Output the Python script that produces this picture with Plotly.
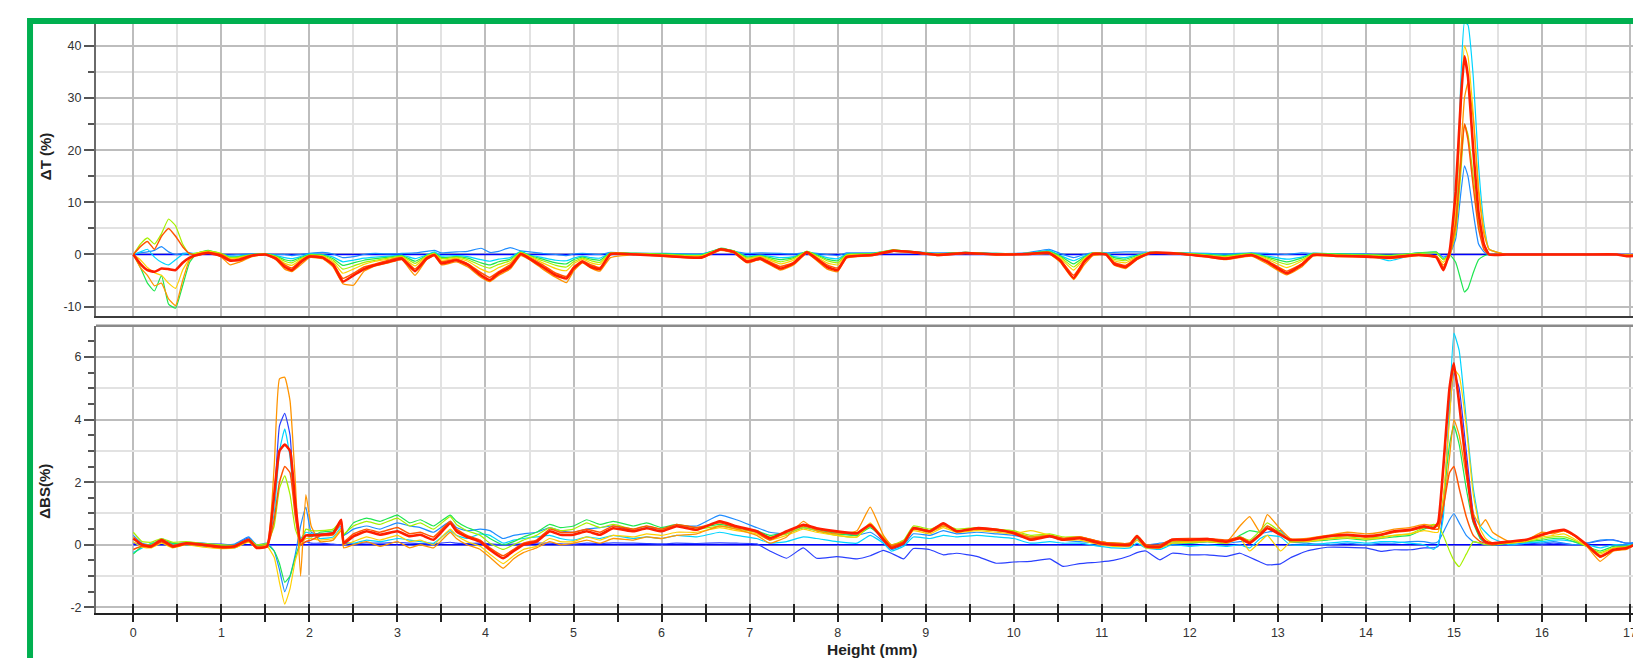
import plotly.graph_objects as go

# ---------------- shared x range (mm) ----------------
X_RANGE = [-0.424, 17.125]
X_TICKS = list(range(0, 18))

# ---------------- top panel : Delta T (%) ----------------
TX = [
    0.00, 0.08, 0.16, 0.24, 0.32, 0.40, 0.48, 0.56, 0.64, 0.72,
    0.85, 1.00, 1.10, 1.20, 1.35, 1.50, 1.62, 1.72, 1.80, 1.90,
    2.00, 2.15, 2.27, 2.38, 2.50, 2.62, 2.75, 2.90, 3.05, 3.20,
    3.33, 3.42, 3.50, 3.67, 3.80, 3.95, 4.05, 4.15, 4.28, 4.40,
    4.50, 4.65, 4.80, 4.92, 5.00, 5.10, 5.20, 5.30, 5.42, 5.70,
    6.05, 6.45, 6.67, 6.82, 6.97, 7.12, 7.35, 7.50, 7.65, 7.88,
    8.00, 8.10, 8.40, 8.63, 8.88, 9.15, 9.45, 9.80, 10.15, 10.40,
    10.53, 10.68, 10.80, 10.90, 11.05, 11.14, 11.27, 11.40, 11.55, 11.85,
    12.20, 12.40, 12.70, 12.88, 13.10, 13.27, 13.40, 13.70, 14.00, 14.27,
    14.60, 14.80, 14.88, 14.95, 15.02, 15.08, 15.12, 15.16, 15.22, 15.28,
    15.34, 15.40, 15.60, 16.00, 16.50, 16.85, 16.95, 17.13,
]
T_REF_X = [0.0, 17.13]
T_REF = [0.0, 0.0]

T_B = [
    0.0, 0.3, 0.5, 0.8, 1.5, 0.5, 0.0, 0.2, 0.3, 0.0,
    0.3, 0.0, -0.1, 0.0, 0.1, 0.1, 0.0, 0.0, -0.2, 0.0,
    0.2, 0.4, 0.1, -0.6, -0.4, 0.0, 0.2, 0.1, 0.2, 0.3,
    0.6, 0.8, 0.3, 0.5, 0.6, 1.2, 0.4, 0.6, 1.3, 0.7,
    0.5, 0.2, 0.0, -0.2, 0.1, 0.2, 0.1, 0.0, 0.4, 0.2,
    0.2, 0.1, 0.9, 0.6, 0.2, 0.3, 0.2, 0.1, 0.4, 0.0,
    -0.2, 0.3, 0.3, 0.6, 0.5, 0.3, 0.4, 0.2, 0.3, 1.0,
    0.2, -0.6, 0.0, 0.3, 0.3, 0.4, 0.5, 0.5, 0.4, 0.3,
    0.2, 0.1, 0.3, 0.2, 0.0, 0.3, 0.2, 0.1, 0.1, -0.3,
    0.3, 0.4, -0.5, 0.0, 3.0, 12.0, 17.0, 15.0, 8.0, 2.0,
    0.5, 0.0, 0.0, 0.0, 0.0, 0.0, 0.0, 0.0,
]
T_C = [
    0.0, 0.5, 1.0, -0.5, -1.5, -2.0, -1.0, 0.0, 0.2, 0.2,
    0.5, 0.1, -0.3, -0.3, 0.0, 0.1, -0.2, -0.6, -0.8, -0.4,
    0.1, 0.0, -0.5, -1.4, -1.1, -0.7, -0.5, -0.3, -0.1, -0.8,
    -0.1, 0.5, -0.3, -0.2, -0.4, -1.0, -1.3, -0.9, -0.6, 0.6,
    -0.1, -0.6, -1.1, -1.2, -0.7, -0.3, -0.6, -0.7, 0.3, 0.2,
    0.1, 0.0, 1.1, 0.7, -0.3, -0.1, -0.6, -0.4, 0.5, -0.6,
    -0.8, 0.1, 0.2, 0.8, 0.5, 0.1, 0.3, 0.1, 0.2, 0.8,
    -0.2, -1.2, -0.3, 0.3, 0.2, -0.4, -0.6, -0.1, 0.4, 0.3,
    0.1, -0.1, 0.2, -0.3, -0.9, -0.5, 0.2, 0.1, 0.0, -1.2,
    0.2, 0.3, -0.8, 0.0, 6.0, 34.0, 44.5, 44.0, 34.0, 17.0,
    6.0, 1.0, 0.0, 0.0, 0.0, 0.0, 0.0, 0.0,
]
T_G = [
    0.0, -2.5, -5.5, -7.0, -4.0, -9.5, -10.3, -6.0, -1.5, 0.2,
    0.8, 0.1, -0.5, -0.4, 0.0, 0.1, -0.3, -1.0, -1.2, -0.6,
    0.0, -0.1, -0.8, -2.1, -1.6, -1.1, -0.8, -0.5, -0.2, -1.3,
    -0.2, 0.3, -0.6, -0.4, -0.7, -1.6, -2.0, -1.4, -0.9, 0.5,
    -0.2, -0.9, -1.6, -1.8, -1.0, -0.5, -0.9, -1.1, 0.3, 0.2,
    0.1, -0.1, 1.2, 0.7, -0.5, -0.2, -1.0, -0.6, 0.6, -0.9,
    -1.2, 0.0, 0.2, 0.9, 0.5, 0.1, 0.4, 0.2, 0.2, 0.6,
    -0.3, -1.8, -0.5, 0.3, 0.2, -0.6, -0.9, -0.2, 0.4, 0.3,
    0.0, -0.2, 0.2, -0.5, -1.4, -0.7, 0.2, 0.1, 0.0, -0.1,
    0.3, 0.5, -1.0, 0.0, -1.5, -5.0, -7.2, -6.5, -3.5, -1.0,
    -0.3, 0.0, 0.0, 0.0, 0.0, 0.0, 0.0, 0.0,
]
T_L = [
    0.0, 2.0, 3.2, 2.0, 4.0, 6.8, 5.5, 2.0, 0.0, 0.3,
    0.7, 0.2, -0.6, -0.5, 0.0, 0.1, -0.4, -1.3, -1.6, -0.8,
    -0.1, -0.2, -1.1, -2.8, -2.2, -1.5, -1.1, -0.7, -0.3, -1.7,
    -0.3, 0.2, -0.8, -0.5, -1.0, -2.1, -2.6, -1.9, -1.2, 0.4,
    -0.3, -1.2, -2.1, -2.4, -1.4, -0.7, -1.2, -1.5, 0.3, 0.2,
    0.0, -0.2, 1.1, 0.7, -0.7, -0.3, -1.4, -0.8, 0.6, -1.2,
    -1.6, -0.1, 0.1, 0.9, 0.5, 0.1, 0.4, 0.1, 0.2, 0.5,
    -0.5, -2.4, -0.7, 0.3, 0.1, -0.9, -1.2, -0.4, 0.4, 0.3,
    -0.1, -0.4, 0.1, -0.7, -1.9, -1.0, 0.1, 0.0, -0.1, -0.2,
    0.2, 0.3, -1.0, 0.0, 4.0, 16.0, 25.0, 23.0, 15.0, 6.0,
    2.0, 0.0, 0.0, 0.0, 0.0, 0.0, 0.0, 0.0,
]
T_Y = [
    0.0, -1.0, -2.5, -3.5, -4.0, -5.5, -6.5, -3.0, -0.8, 0.2,
    0.6, 0.0, -0.8, -0.7, -0.1, 0.0, -0.5, -1.7, -2.1, -1.0,
    -0.2, -0.3, -1.4, -3.6, -2.8, -1.9, -1.3, -0.9, -0.5, -2.2,
    -0.4, 0.1, -1.1, -0.7, -1.3, -2.8, -3.4, -2.5, -1.6, 0.3,
    -0.4, -1.6, -2.7, -3.1, -1.8, -0.9, -1.6, -1.9, 0.2, 0.1,
    -0.1, -0.3, 1.0, 0.6, -0.9, -0.4, -1.8, -1.1, 0.5, -1.6,
    -2.0, -0.2, 0.0, 0.8, 0.4, 0.0, 0.3, 0.1, 0.1, 0.4,
    -0.7, -3.0, -0.9, 0.2, 0.1, -1.2, -1.6, -0.5, 0.4, 0.2,
    -0.2, -0.5, 0.0, -0.9, -2.5, -1.3, 0.0, -0.2, -0.3, -0.4,
    0.0, -0.3, -1.5, 0.3, 8.0, 28.0, 40.0, 38.0, 27.0, 13.0,
    5.0, 1.0, 0.0, 0.0, 0.0, 0.0, -0.1, 0.0,
]
T_O = [
    0.0, -2.5, -4.0, -6.0, -5.5, -8.5, -9.8, -5.0, -1.0, 0.0,
    0.5, -0.5, -2.0, -1.5, -0.4, 0.0, -1.0, -2.8, -3.3, -2.0,
    -0.6, -0.8, -2.4, -5.6, -5.9, -3.2, -2.2, -1.6, -1.0, -4.0,
    -1.0, -0.2, -2.0, -1.4, -2.4, -4.4, -5.2, -4.0, -2.8, -0.2,
    -1.0, -2.8, -4.4, -5.4, -3.2, -1.6, -2.6, -3.2, -0.6, 0.0,
    -0.4, -0.7, 0.8, 0.3, -1.6, -1.0, -3.0, -2.0, 0.2, -2.8,
    -3.3, -0.7, -0.2, 0.6, 0.3, -0.2, 0.2, -0.1, 0.0, 0.1,
    -1.5, -4.8, -2.0, -0.2, -0.1, -2.0, -2.7, -1.0, 0.2, 0.1,
    -0.5, -1.0, -0.3, -1.8, -3.9, -2.4, -0.3, -0.4, -0.5, -0.8,
    -0.2, -0.6, -2.0, -0.5, 5.0, 20.0, 30.0, 33.0, 26.0, 12.0,
    4.0, 1.0, 0.0, 0.0, 0.0, 0.0, -0.3, -0.2,
]
T_R2 = [
    0.0, 1.5, 2.5, 1.0, 3.5, 5.0, 3.5, 1.5, 0.2, -0.2,
    0.4, 0.0, -1.0, -1.2, -0.3, 0.0, -0.6, -2.0, -2.6, -1.2,
    -0.3, -0.5, -1.8, -4.6, -3.6, -2.4, -1.8, -1.1, -0.6, -2.8,
    -0.6, 0.0, -1.4, -0.9, -1.8, -3.5, -4.4, -3.3, -2.0, 0.2,
    -0.6, -2.0, -3.6, -4.2, -2.4, -1.2, -2.0, -2.5, 0.0, 0.1,
    -0.2, -0.5, 0.9, 0.4, -1.2, -0.6, -2.3, -1.5, 0.5, -2.0,
    -2.6, -0.4, 0.0, 0.8, 0.3, 0.0, 0.2, 0.1, 0.0, 0.4,
    -1.0, -4.0, -1.2, 0.2, 0.0, -1.5, -2.1, -0.6, 0.3, 0.1,
    -0.3, -0.7, -0.2, -1.2, -3.2, -1.8, 0.0, -0.2, -0.3, -0.5,
    0.0, -0.4, -2.5, 0.0, 6.0, 18.0, 25.0, 22.0, 13.0, 5.0,
    1.0, 0.0, 0.0, 0.0, 0.0, 0.0, -0.2, -0.1,
]
T_R = [
    0.0, -1.8, -3.0, -3.3, -2.7, -2.8, -3.0, -1.6, -0.6, -0.1,
    0.3, -0.3, -1.2, -1.0, -0.2, 0.0, -0.8, -2.4, -3.0, -1.5,
    -0.4, -0.6, -2.0, -5.2, -4.0, -2.8, -2.0, -1.4, -0.8, -3.2,
    -0.8, -0.1, -1.7, -1.1, -2.0, -4.0, -4.9, -3.6, -2.4, 0.1,
    -0.8, -2.4, -4.0, -4.6, -2.7, -1.4, -2.4, -2.8, 0.1, 0.0,
    -0.3, -0.6, 1.0, 0.5, -1.4, -0.8, -2.7, -1.7, 0.4, -2.4,
    -3.0, -0.5, -0.1, 0.7, 0.4, -0.1, 0.3, 0.0, 0.1, 0.3,
    -1.2, -4.5, -1.4, 0.1, 0.0, -1.8, -2.4, -0.8, 0.3, 0.2,
    -0.4, -0.8, -0.1, -1.4, -3.6, -2.0, -0.1, -0.3, -0.4, -0.6,
    -0.1, -0.5, -3.0, 0.5, 12.0, 30.0, 38.0, 34.0, 20.0, 8.0,
    2.0, 0.0, 0.0, 0.0, 0.0, 0.0, -0.3, -0.2,
]

T_YTICKS = [-10, 0, 10, 20, 30, 40]
T_YLABELS = ["-10", "0", "10", "20", "30", "40"]
T_YMINOR = [-5, 5, 15, 25, 35]
T_YRANGE = [-11.8, 44.2]

# ---------------- bottom panel : Delta BS (%) ----------------
BX = [
    0.00, 0.10, 0.20, 0.32, 0.45, 0.60, 0.80, 1.00, 1.15, 1.31,
    1.40, 1.52, 1.60, 1.66, 1.72, 1.78, 1.84, 1.90, 1.96, 2.02,
    2.12, 2.27, 2.36, 2.39, 2.50, 2.65, 2.80, 3.00, 3.14, 3.26,
    3.41, 3.60, 3.67, 3.79, 3.94, 4.05, 4.20, 4.32, 4.43, 4.58,
    4.73, 4.85, 5.00, 5.15, 5.30, 5.45, 5.68, 5.83, 6.00, 6.17,
    6.40, 6.66, 6.85, 7.08, 7.23, 7.42, 7.61, 7.76, 7.99, 8.22,
    8.37, 8.52, 8.61, 8.75, 8.86, 9.05, 9.20, 9.35, 9.58, 9.80,
    10.00, 10.19, 10.41, 10.56, 10.75, 10.98, 11.13, 11.32, 11.40, 11.50,
    11.66, 11.80, 12.00, 12.20, 12.42, 12.57, 12.68, 12.80, 12.88, 13.03,
    13.14, 13.33, 13.56, 13.79, 14.00, 14.17, 14.32, 14.50, 14.66, 14.77,
    14.82, 14.88, 14.95, 15.00, 15.06, 15.14, 15.22, 15.30, 15.36, 15.44,
    15.63, 15.82, 16.00, 16.13, 16.25, 16.36, 16.51, 16.66, 16.81, 16.96,
    17.13,
]
B_REF_X = [0.0, 17.13]
B_REF = [0.0, 0.0]

B_BD = [
    0.05, 0.02, 0.00, 0.10, 0.03, 0.05, 0.04, 0.02, 0.00, 0.22,
    0.00, 0.02, 1.50, 3.80, 4.20, 3.50, 1.00, 0.00, 0.10, 0.05,
    0.05, 0.02, 0.00, 0.05, 0.03, 0.06, 0.05, 0.08, 0.05, 0.04,
    0.03, 0.08, 0.05, 0.04, 0.05, 0.03, 0.00, 0.02, 0.03, 0.05,
    0.05, 0.03, 0.02, 0.05, 0.04, 0.06, 0.05, 0.04, 0.03, 0.05,
    0.04, 0.06, 0.05, 0.03, -0.20, -0.43, -0.10, -0.43, -0.38, -0.45,
    -0.35, -0.18, -0.27, -0.45, -0.12, -0.16, -0.32, -0.27, -0.37, -0.59,
    -0.55, -0.53, -0.45, -0.69, -0.60, -0.55, -0.50, -0.35, -0.25, -0.20,
    -0.48, -0.27, -0.32, -0.32, -0.37, -0.27, -0.40, -0.55, -0.64, -0.61,
    -0.42, -0.20, -0.08, -0.08, -0.10, -0.21, -0.16, -0.16, -0.10, -0.10,
    -0.05, 1.20, 4.20, 5.50, 5.00, 3.00, 1.00, 0.20, 0.05, 0.00,
    0.00, 0.05, 0.02, 0.05, 0.03, 0.00, 0.05, 0.12, 0.16, 0.05,
    0.05,
]
B_B = [
    0.30, 0.05, 0.00, 0.20, 0.02, 0.08, 0.05, 0.00, 0.02, 0.25,
    0.00, 0.05, -0.20, -0.80, -1.50, -1.00, -0.30, 0.60, 1.20, 0.40,
    0.35, 0.40, 0.60, 0.30, 0.50, 0.60, 0.50, 0.70, 0.60, 0.55,
    0.40, 0.75, 0.55, 0.45, 0.50, 0.45, 0.20, 0.30, 0.35, 0.40,
    0.55, 0.45, 0.40, 0.50, 0.55, 0.60, 0.45, 0.55, 0.50, 0.60,
    0.60, 0.95, 0.80, 0.55, 0.40, 0.35, 0.55, 0.45, 0.40, 0.30,
    0.40, 0.10, -0.15, 0.00, 0.35, 0.30, 0.45, 0.35, 0.40, 0.35,
    0.30, 0.20, 0.25, 0.15, 0.10, 0.05, 0.00, -0.05, 0.15, 0.00,
    0.05, 0.10, 0.05, 0.10, 0.05, 0.10, 0.10, 0.35, 0.40, 0.45,
    0.10, 0.05, 0.00, 0.05, 0.00, 0.05, 0.05, 0.10, 0.10, 0.05,
    0.10, 0.40, 0.80, 1.00, 0.70, 0.30, 0.10, 0.05, 0.00, 0.00,
    0.05, 0.10, 0.05, 0.10, 0.05, 0.00, 0.05, 0.15, 0.15, 0.05,
    0.10,
]
B_C = [
    -0.25, -0.10, 0.05, 0.10, 0.00, 0.00, -0.05, -0.05, -0.10, 0.10,
    -0.05, 0.00, 1.00, 3.00, 3.70, 2.80, 1.00, 0.20, 0.40, 0.35,
    0.20, 0.25, 0.55, 0.10, 0.05, 0.15, 0.10, 0.20, 0.15, 0.10,
    0.05, 0.45, 0.30, 0.20, 0.35, 0.30, 0.05, 0.15, 0.20, 0.25,
    0.30, 0.20, 0.15, 0.25, 0.20, 0.30, 0.20, 0.25, 0.20, 0.30,
    0.25, 0.40, 0.30, 0.20, 0.05, 0.10, 0.25, 0.20, 0.10, 0.05,
    0.30, 0.05, -0.20, -0.05, 0.25, 0.20, 0.30, 0.25, 0.30, 0.25,
    0.20, 0.05, 0.10, 0.05, 0.05, -0.05, -0.10, -0.10, 0.05, -0.10,
    -0.15, 0.00, -0.05, 0.00, -0.05, 0.00, -0.10, 0.20, 0.30, 0.25,
    0.00, 0.00, 0.05, 0.10, 0.05, 0.10, 0.10, 0.05, 0.00, -0.15,
    0.00, 0.90, 4.50, 6.76, 6.20, 4.00, 1.80, 0.60, 0.40, 0.20,
    0.00, 0.05, 0.10, 0.15, 0.15, 0.10, 0.00, -0.10, 0.00, 0.00,
    0.05,
]
B_G = [
    -0.30, -0.05, 0.02, 0.12, 0.05, 0.03, 0.02, -0.02, -0.08, 0.12,
    -0.05, 0.00, -0.20, -0.60, -1.20, -1.00, -0.40, 0.10, 0.30, 0.25,
    0.40, 0.45, 0.70, 0.30, 0.70, 0.85, 0.75, 0.95, 0.70, 0.80,
    0.60, 0.95, 0.75, 0.55, 0.40, 0.20, 0.00, 0.10, 0.25, 0.40,
    0.65, 0.55, 0.60, 0.80, 0.65, 0.75, 0.60, 0.70, 0.55, 0.65,
    0.55, 0.65, 0.55, 0.45, 0.30, 0.40, 0.60, 0.50, 0.35, 0.30,
    0.55, 0.20, -0.05, 0.10, 0.55, 0.45, 0.60, 0.45, 0.50, 0.45,
    0.40, 0.25, 0.30, 0.20, 0.20, 0.05, 0.05, 0.00, 0.20, -0.05,
    -0.10, 0.05, 0.05, 0.10, 0.05, 0.30, 0.45, 0.40, 0.60, 0.35,
    0.10, 0.10, 0.15, 0.20, 0.15, 0.20, 0.25, 0.30, 0.50, 0.60,
    0.60, 1.50, 3.20, 3.80, 3.20, 1.80, 0.70, 0.20, 0.10, 0.00,
    0.05, 0.10, 0.15, 0.20, 0.20, 0.10, -0.05, -0.20, -0.05, -0.05,
    0.08,
]
B_L = [
    0.40, 0.10, 0.08, 0.20, 0.08, 0.10, 0.04, 0.00, -0.02, 0.18,
    0.00, 0.05, 0.60, 1.80, 2.20, 1.60, 0.50, 0.10, 0.50, 0.45,
    0.45, 0.50, 0.75, 0.35, 0.60, 0.75, 0.65, 0.85, 0.60, 0.70,
    0.50, 0.90, 0.65, 0.45, 0.30, 0.05, -0.15, 0.00, 0.15, 0.30,
    0.55, 0.45, 0.50, 0.70, 0.55, 0.65, 0.50, 0.60, 0.50, 0.60,
    0.50, 0.60, 0.50, 0.40, 0.25, 0.35, 0.55, 0.45, 0.30, 0.25,
    0.60, 0.25, 0.00, 0.15, 0.60, 0.50, 0.65, 0.50, 0.55, 0.50,
    0.45, 0.30, 0.35, 0.25, 0.25, 0.10, 0.05, 0.05, 0.25, 0.00,
    -0.05, 0.10, 0.10, 0.12, 0.08, 0.25, 0.15, 0.45, 0.70, 0.40,
    0.12, 0.12, 0.20, 0.25, 0.20, 0.25, 0.30, 0.35, 0.55, 0.65,
    0.60, 0.30, -0.20, -0.50, -0.70, -0.30, 0.10, 0.05, 0.00, 0.00,
    0.05, 0.10, 0.20, 0.25, 0.25, 0.15, -0.05, -0.25, -0.10, -0.05,
    0.05,
]
B_Y = [
    0.10, -0.08, -0.10, 0.05, -0.10, 0.00, -0.08, -0.12, -0.10, 0.08,
    -0.10, -0.05, -0.40, -1.20, -1.90, -1.40, -0.50, 0.00, 0.20, 0.20,
    0.15, 0.20, 0.50, 0.00, 0.10, 0.25, 0.15, 0.30, 0.10, 0.15,
    0.00, 0.50, 0.30, 0.10, -0.05, -0.30, -0.60, -0.35, -0.15, -0.05,
    0.20, 0.10, 0.10, 0.25, 0.15, 0.30, 0.25, 0.35, 0.30, 0.40,
    0.40, 0.55, 0.45, 0.35, 0.15, 0.30, 0.50, 0.40, 0.30, 0.25,
    0.70, 0.20, -0.05, 0.05, 0.45, 0.35, 0.55, 0.40, 0.45, 0.40,
    0.35, 0.45, 0.30, 0.15, 0.15, 0.00, -0.05, -0.05, 0.15, -0.10,
    -0.10, 0.05, 0.08, 0.10, 0.05, 0.20, -0.20, 0.10, 0.30, -0.20,
    0.08, 0.10, 0.18, 0.22, 0.18, 0.22, 0.30, 0.35, 0.45, 0.40,
    0.40, 1.50, 4.00, 5.60, 5.40, 3.80, 1.60, 0.50, 0.20, 0.05,
    0.05, 0.12, 0.25, 0.30, 0.35, 0.20, -0.05, -0.30, -0.10, -0.10,
    0.05,
]
B_O = [
    0.25, 0.02, -0.02, 0.18, -0.02, 0.06, 0.00, -0.05, -0.06, 0.14,
    -0.05, 0.00, 2.50, 5.30, 5.35, 4.60, 2.00, -1.00, 1.60, 0.60,
    0.10, 0.15, 0.45, -0.10, 0.00, 0.10, -0.05, 0.10, -0.10, 0.00,
    -0.10, 0.40, 0.20, 0.00, -0.15, -0.40, -0.75, -0.45, -0.25, -0.10,
    0.10, 0.00, 0.05, 0.15, 0.05, 0.20, 0.15, 0.25, 0.20, 0.30,
    0.35, 0.60, 0.50, 0.30, 0.05, 0.25, 0.75, 0.45, 0.35, 0.45,
    1.20, 0.30, 0.00, 0.10, 0.50, 0.40, 0.60, 0.45, 0.50, 0.45,
    0.40, 0.25, 0.30, 0.20, 0.25, 0.10, 0.05, 0.05, 0.30, 0.00,
    -0.05, 0.12, 0.12, 0.15, 0.10, 0.60, 0.90, 0.40, 0.96, 0.50,
    0.20, 0.20, 0.30, 0.40, 0.35, 0.40, 0.50, 0.55, 0.65, 0.60,
    0.60, 1.20, 2.80, 4.00, 3.50, 2.20, 1.00, 0.60, 0.80, 0.40,
    0.10, 0.15, 0.40, 0.35, 0.45, 0.30, -0.05, -0.53, -0.20, -0.15,
    0.12,
]
B_R2 = [
    -0.15, -0.05, -0.08, 0.10, -0.08, 0.02, -0.03, -0.10, -0.08, 0.12,
    -0.08, -0.05, 0.80, 2.00, 2.50, 2.30, 0.90, 0.00, 0.10, 0.15,
    0.28, 0.32, 0.70, 0.10, 0.35, 0.50, 0.40, 0.55, 0.35, 0.40,
    0.25, 0.75, 0.50, 0.30, 0.15, -0.10, -0.35, -0.15, 0.05, 0.15,
    0.50, 0.40, 0.40, 0.50, 0.40, 0.60, 0.50, 0.60, 0.50, 0.65,
    0.55, 0.70, 0.55, 0.40, 0.15, 0.40, 0.60, 0.50, 0.40, 0.35,
    0.60, 0.20, -0.05, 0.10, 0.50, 0.45, 0.65, 0.45, 0.50, 0.50,
    0.40, 0.20, 0.30, 0.20, 0.25, 0.10, 0.05, 0.05, 0.30, 0.00,
    0.00, 0.18, 0.20, 0.20, 0.15, 0.25, 0.10, 0.35, 0.60, 0.35,
    0.15, 0.15, 0.25, 0.30, 0.25, 0.30, 0.40, 0.45, 0.55, 0.50,
    0.50, 1.20, 2.30, 2.50, 1.80, 0.90, 0.30, 0.10, 0.05, 0.00,
    0.10, 0.15, 0.30, 0.40, 0.45, 0.30, -0.02, -0.40, -0.18, -0.12,
    0.10,
]
B_R = [
    0.20, 0.00, -0.05, 0.15, -0.05, 0.05, 0.00, -0.07, -0.05, 0.16,
    -0.10, -0.05, 1.60, 3.00, 3.20, 3.00, 1.30, 0.10, 0.30, 0.30,
    0.32, 0.37, 0.80, 0.05, 0.27, 0.43, 0.32, 0.43, 0.27, 0.32,
    0.16, 0.69, 0.43, 0.25, 0.10, -0.16, -0.43, -0.20, 0.00, 0.10,
    0.43, 0.32, 0.32, 0.43, 0.32, 0.53, 0.43, 0.53, 0.43, 0.59,
    0.48, 0.75, 0.59, 0.43, 0.21, 0.43, 0.64, 0.53, 0.43, 0.37,
    0.64, 0.16, -0.10, 0.05, 0.53, 0.43, 0.69, 0.43, 0.53, 0.48,
    0.37, 0.16, 0.27, 0.16, 0.21, 0.05, 0.00, 0.00, 0.27, -0.05,
    -0.07, 0.16, 0.16, 0.18, 0.10, 0.21, 0.05, 0.32, 0.53, 0.32,
    0.16, 0.16, 0.27, 0.32, 0.27, 0.32, 0.43, 0.48, 0.59, 0.53,
    0.70, 2.50, 5.00, 5.80, 4.50, 2.50, 0.80, 0.30, 0.10, 0.05,
    0.10, 0.16, 0.32, 0.43, 0.48, 0.32, 0.00, -0.37, -0.16, -0.10,
    0.10,
]

B_YTICKS = [-2, 0, 2, 4, 6]
B_YLABELS = ["-2", "0", "2", "4", "6"]
B_YMINOR = [-1.5, -1.0, -0.5, 0.5, 1.0, 1.5, 2.5, 3.0, 3.5, 4.5, 5.0, 5.5, 6.5]
B_YGRID_EXTRA = [-1, 1, 3, 5]
B_YRANGE = [-2.18, 7.0]

# ---------------- styles ----------------
COLORS = {
    "REF": "#0000ff", "BD": "#2a40ff", "B": "#1e8cff", "C": "#00d4ff",
    "G": "#1ee650", "L": "#a6f000", "Y": "#ffd000", "O": "#ff9400",
    "R2": "#ff5500", "R": "#ff1e00",
}
WIDTHS = {"REF": 1.3, "BD": 1.2, "B": 1.2, "C": 1.2, "G": 1.2, "L": 1.2,
          "Y": 1.2, "O": 1.3, "R2": 1.5, "R": 2.6}

TOP_SERIES = [("REF", T_REF_X, T_REF), ("B", TX, T_B), ("C", TX, T_C),
              ("G", TX, T_G), ("L", TX, T_L), ("Y", TX, T_Y),
              ("O", TX, T_O), ("R2", TX, T_R2), ("R", TX, T_R)]
BOT_SERIES = [("REF", B_REF_X, B_REF), ("BD", BX, B_BD), ("B", BX, B_B),
              ("C", BX, B_C), ("G", BX, B_G), ("L", BX, B_L), ("Y", BX, B_Y),
              ("O", BX, B_O), ("R2", BX, B_R2), ("R", BX, B_R)]

fig = go.Figure()
for key, xs, ys in TOP_SERIES:
    fig.add_trace(go.Scatter(x=xs, y=ys, mode="lines", xaxis="x", yaxis="y",
                             line=dict(color=COLORS[key], width=WIDTHS[key],
                                       shape="spline", smoothing=0.4),
                             hoverinfo="skip", showlegend=False))
for key, xs, ys in BOT_SERIES:
    fig.add_trace(go.Scatter(x=xs, y=ys, mode="lines", xaxis="x2", yaxis="y2",
                             line=dict(color=COLORS[key], width=WIDTHS[key],
                                       shape="spline", smoothing=0.4),
                             hoverinfo="skip", showlegend=False))
# empty helper traces so that overlay axes exist
fig.add_trace(go.Scatter(x=[None], y=[None], xaxis="x3", yaxis="y2",
                         showlegend=False, hoverinfo="skip"))
fig.add_trace(go.Scatter(x=[None], y=[None], xaxis="x2", yaxis="y3",
                         showlegend=False, hoverinfo="skip"))

HALF = [v + 0.5 for v in X_TICKS[:-1]]
ALL_X_TICKS = sorted(X_TICKS + HALF)
GRID_MAJ = "#bdbdbd"
GRID_MIN = "#e2e2e2"
TICKFONT = dict(family="Liberation Sans, Arial, sans-serif", size=12.5, color="#333333")

TOP_DOMAIN = [0.5042, 1.0]
BOT_DOMAIN = [0.0, 0.4878]

# the page body adds an 8 px offset, so margins are shifted to compensate
fig.update_layout(
    width=1641, height=658,
    margin=dict(l=88, r=8, t=16, b=53),
    paper_bgcolor="white", plot_bgcolor="white",
    font=dict(family="Liberation Sans, Arial, sans-serif", size=12.5, color="#333333"),
    showlegend=False,
    xaxis=dict(domain=[0, 1], anchor="y", range=X_RANGE, tickvals=X_TICKS,
               showticklabels=False, ticks="", showgrid=True, gridcolor=GRID_MAJ,
               gridwidth=1.5, zeroline=False, showline=True, linecolor="#3c3c3c",
               linewidth=2,
               minor=dict(tickvals=HALF, showgrid=True, gridcolor=GRID_MIN,
                          gridwidth=1.5, ticks="")),
    yaxis=dict(domain=TOP_DOMAIN, anchor="x", range=T_YRANGE,
               tickvals=T_YTICKS, ticktext=T_YLABELS, tickfont=TICKFONT,
               ticks="outside", ticklen=10, tickwidth=1.5, tickcolor="#555555",
               showgrid=True, gridcolor=GRID_MAJ, gridwidth=1.5, zeroline=False,
               showline=True, linecolor="#6a6a6a", linewidth=2,
               minor=dict(tickvals=T_YMINOR, ticks="outside", ticklen=6,
                          tickwidth=1.5, tickcolor="#555555", showgrid=True,
                          gridcolor=GRID_MIN, gridwidth=1.5)),
    xaxis2=dict(domain=[0, 1], anchor="y2", range=X_RANGE, tickvals=X_TICKS,
                tickfont=TICKFONT, ticks="outside", ticklen=7, tickwidth=1.5,
                tickcolor="#222222", showgrid=True, gridcolor=GRID_MAJ,
                gridwidth=1.5, zeroline=False, showline=True,
                linecolor="#222222", linewidth=2,
                minor=dict(tickvals=HALF, ticks="outside", ticklen=7,
                           tickwidth=1.5, tickcolor="#222222", showgrid=True,
                           gridcolor=GRID_MIN, gridwidth=1.5)),
    xaxis3=dict(overlaying="x2", anchor="y2", range=X_RANGE,
                tickvals=ALL_X_TICKS, ticks="inside", ticklen=9, tickwidth=1.5,
                tickcolor="#222222", showticklabels=False, showgrid=False,
                zeroline=False, showline=False),
    yaxis2=dict(domain=BOT_DOMAIN, anchor="x2", range=B_YRANGE,
                tickvals=B_YTICKS, ticktext=B_YLABELS, tickfont=TICKFONT,
                ticks="outside", ticklen=10, tickwidth=1.5, tickcolor="#555555",
                showgrid=True, gridcolor=GRID_MAJ, gridwidth=1.5, zeroline=False,
                showline=True, linecolor="#6a6a6a", linewidth=2,
                minor=dict(tickvals=B_YMINOR, ticks="outside", ticklen=6,
                           tickwidth=1.5, tickcolor="#555555", showgrid=False)),
    yaxis3=dict(overlaying="y2", anchor="x2", range=B_YRANGE,
                tickvals=B_YGRID_EXTRA, showticklabels=False, ticks="",
                showgrid=True, gridcolor=GRID_MIN, gridwidth=1.5,
                zeroline=False, showline=False),
)

# frame line on top of the lower panel and the green outer border
fig.add_shape(type="line", xref="paper", yref="paper", x0=0, x1=1.01,
              y0=BOT_DOMAIN[1], y1=BOT_DOMAIN[1],
              line=dict(color="#8a8a8a", width=2.5))
fig.add_shape(type="rect", xref="paper", yref="paper",
              x0=-0.0427, x1=1.05, y0=-0.2, y1=1.0051,
              line=dict(color="#00b050", width=6), fillcolor="rgba(0,0,0,0)")

TITLE_FONT = dict(family="Liberation Sans, Arial, sans-serif", size=15, color="#222222")
fig.add_annotation(text="<b>ΔT (%)</b>", xref="paper", yref="paper",
                   x=-0.033, y=0.774, textangle=-90, showarrow=False,
                   xanchor="center", yanchor="middle", font=TITLE_FONT)
fig.add_annotation(text="<b>ΔBS(%)</b>", xref="paper", yref="paper",
                   x=-0.033, y=0.206, textangle=-90, showarrow=False,
                   xanchor="center", yanchor="middle", font=TITLE_FONT)
fig.add_annotation(text="<b>Height (mm)</b>", xref="paper", yref="paper",
                   x=0.502, y=-0.0623, showarrow=False,
                   xanchor="center", yanchor="middle",
                   font=dict(family="Liberation Sans, Arial, sans-serif", size=15.5,
                             color="#222222"))

fig.write_html("out.html")
